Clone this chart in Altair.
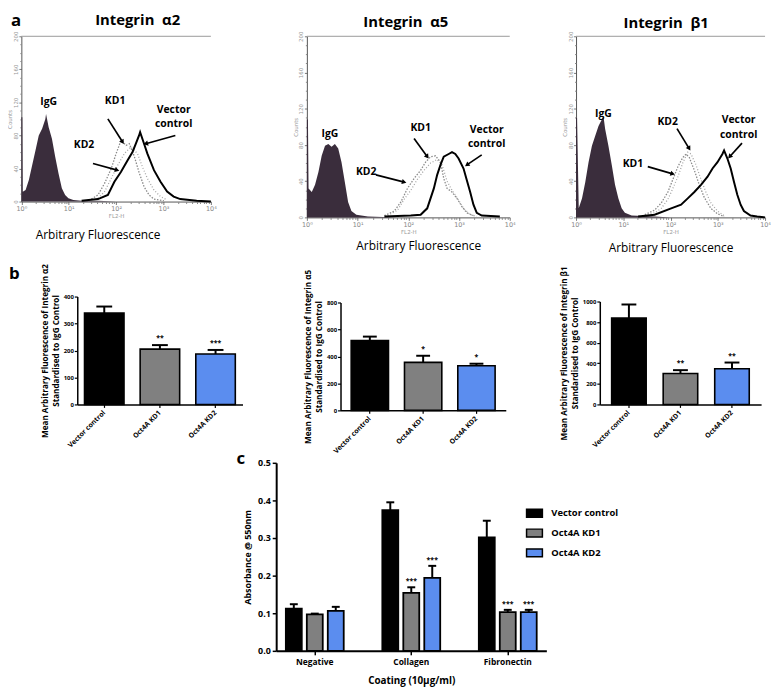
import math
import altair as alt
import pandas as pd

W, H = 771, 684          # whole drawing (page margin of 8px is outside)

# ---------------- panel a : flow cytometry histograms (FL2-H, counts) ----------------
a2_igg_x = [1, 1.05, 1.07, 1.23, 1.44, 1.69, 1.99, 2.33, 2.74, 3.21, 3.32, 3.77, 4.42, 5.19, 6.09, 7.15, 8.39, 9.84, 12.5, 18.6, 41.6, 100]
a2_igg_n = [102, 102, 12, 14, 26, 44, 62, 80, 88, 100, 106, 90, 76, 54, 34, 16, 8, 4, 2, 1, 1, 0]
a2_vec_x = [18.7, 41.5, 67, 92, 127, 175, 222, 261, 305, 321, 389, 457, 629, 866, 1192, 1641, 2260, 5010, 10000]
a2_vec_n = [1, 3, 8, 24, 36, 50, 60, 70, 80, 84, 70, 58, 38, 24, 12, 6, 3, 1, 0]
a2_kd1_x = [30, 41.5, 57, 79, 100, 127, 162, 190, 241, 306, 389, 495, 629, 1016]
a2_kd1_n = [3, 8, 22, 40, 58, 74, 68, 70, 55, 35, 18, 8, 3, 1]
a2_kd2_x = [41.5, 57, 79, 108, 149, 205, 283, 359, 457, 629, 866, 1192]
a2_kd2_n = [4, 12, 28, 44, 58, 66, 58, 42, 28, 14, 6, 2]

a5_igg_x = [1, 1.05, 1.08, 1.25, 1.45, 1.69, 1.96, 2.28, 2.65, 3.07, 3.57, 4.15, 4.82, 5.6, 6.5, 7.55, 9.46, 16, 60]
a5_igg_n = [108, 108, 32, 28, 36, 50, 68, 79, 81, 78, 81, 76, 61, 39, 17, 7, 3, 1, 0]
a5_vec_x = [33.8, 112, 175, 236, 319, 371, 431, 500, 626, 727, 845, 981, 1228, 1426, 1659, 1926, 2238, 2802, 6380]
a5_vec_n = [1, 2, 3, 10, 32, 47, 58, 67, 70, 72, 70, 65, 54, 41, 28, 14, 5, 2, 1]
a5_kd1_x = [33.8, 52.9, 71.4, 96.3, 130, 175, 219, 275, 344, 431, 500, 581, 727, 910, 1140, 1426, 1926]
a5_kd1_n = [2, 7, 17, 32, 43, 52, 61, 67, 68, 61, 43, 32, 28, 21, 12, 5, 2]
a5_kd2_x = [39.2, 61.5, 82.9, 112, 151, 204, 275, 371, 464, 581, 727, 910, 1228, 1659, 2238]
a5_kd2_n = [2, 8, 20, 30, 42, 52, 60, 64, 58, 40, 30, 22, 10, 3, 1]

b1_igg_x = [1, 1.05, 1.14, 1.34, 1.57, 1.84, 2.17, 2.54, 2.99, 3.51, 3.8, 4.12, 4.84, 5.69, 6.68, 7.85, 9.23, 10.8, 15, 46, 100]
b1_igg_n = [110, 110, 10, 21, 39, 61, 79, 90, 101, 108, 112, 98, 79, 58, 36, 21, 10, 5, 2, 1, 0]
b1_vec_x = [20.6, 46, 103, 167, 231, 319, 440, 607, 773, 984, 1253, 1358, 1596, 1874, 2203, 2587, 3040, 3568, 4923, 6796, 10000]
b1_vec_n = [1, 3, 10, 14, 21, 28, 36, 45, 54, 61, 70, 74, 65, 54, 39, 25, 14, 7, 2, 1, 0]
b1_kd1_x = [28.5, 46, 63.7, 87.9, 112, 143, 181, 213, 250, 319, 405, 517, 713, 984, 1358]
b1_kd1_n = [3, 8, 16, 28, 42, 56, 66, 70, 66, 52, 36, 22, 10, 4, 1]
b1_kd2_x = [28.5, 46, 63.7, 87.9, 112, 143, 181, 231, 271, 345, 440, 560, 713, 984, 1358]
b1_kd2_n = [2, 5, 10, 20, 32, 45, 60, 72, 70, 58, 42, 28, 16, 7, 2]

# annotation labels (data coordinates of each histogram)
a2_lab = {"label": ["IgG", "KD1", "KD2", "Vector", "control"],
          "x": [3.76, 95, 21, 1640, 1640], "n": [120, 122, 68, 111, 94]}
a2_arr = {"x": [67, 32.5, 1778], "n": [100, 46, 80], "x2": [137, 105, 422], "n2": [72, 38, 70]}
a5_lab = {"label": ["IgG", "KD1", "KD2", "Vector", "control"],
          "x": [2.85, 175, 14.8, 3510, 3510], "n": [92, 99, 50, 96, 81]}
a5_arr = {"x": [130, 23, 2800], "n": [87, 47, 69], "x2": [237, 83, 1430], "n2": [67, 39, 58]}
b1_lab = {"label": ["IgG", "KD2", "KD1", "Vector", "control"],
          "x": [3.8, 87, 16, 2760, 2760], "n": [114, 105, 59, 107, 91]}
b1_arr = {"x": [137, 33, 3250], "n": [98, 56, 82], "x2": [248, 111, 1780], "n2": [76, 48, 67]}

hist_titles = ["Integrin\u00a0 α2", "Integrin\u00a0 α5", "Integrin\u00a0 β1"]
x_major = [1, 10, 100, 1000, 10000]
x_minor = [2, 3, 4, 5, 6, 7, 8, 9, 20, 30, 40, 50, 60, 70, 80, 90,
           200, 300, 400, 500, 600, 700, 800, 900, 2000, 3000, 4000, 5000, 6000, 7000, 8000, 9000]
y_major = [0, 40, 80, 120, 160, 200]
y_minor = [10, 20, 30, 50, 60, 70, 90, 100, 110, 130, 140, 150, 170, 180, 190]

# ---------------- panel b : mean fluorescence bars ----------------
groups = ["Vector control", "Oct4A KD1", "Oct4A KD2"]
fills = ["#000000", "#808080", "#5b8def"]
ia2_mean = [339, 205, 187]
ia2_sem = [24, 15, 15]
ia2_sig = ["", "**", "***"]
ia5_mean = [518, 356, 331]
ia5_sem = [29, 49, 15]
ia5_sig = ["", "*", "*"]
ib1_mean = [840, 301, 346]
ib1_sem = [131, 32, 61]
ib1_sig = ["", "**", "**"]

# ---------------- panel c : adhesion assay ----------------
coatings = ["Negative", "Collagen", "Fibronectin"]
c_vec_mean = [0.112, 0.374, 0.302]
c_vec_sem = [0.012, 0.021, 0.044]
c_kd1_mean = [0.097, 0.154, 0.103]
c_kd1_sem = [0.002, 0.015, 0.006]
c_kd2_mean = [0.106, 0.194, 0.103]
c_kd2_sem = [0.011, 0.032, 0.006]
c_kd1_sig = ["", "***", "***"]
c_kd2_sig = ["", "***", "***"]

# ---------------- layout (pixel ranges of each panel's scales) ----------------
GEOM = {
    "h1": dict(x=(13.5, 205.0), y=(192.0, 25.0)),
    "h2": dict(x=(302.0, 507.0), y=(208.0, 25.0)),
    "h3": dict(x=(574.0, 765.0), y=(208.0, 25.0)),
    "b1": dict(x=(70.0, 237.0), y=(397.0, 288.0), pi=0.29, po=0.13, cap=16),
    "b2": dict(x=(336.0, 503.0), y=(403.0, 294.0), pi=0.30, po=0.20, cap=14),
    "b3": dict(x=(598.0, 761.0), y=(397.0, 293.0), pi=0.33, po=0.23, cap=15),
    "c": dict(x=(271.0, 544.0), y=(646.0, 456.0)),
}

SUP = ("datum.value < 5 ? '10⁰' : datum.value < 50 ? '10¹' : datum.value < 500 ? '10²' : "
       "datum.value < 5000 ? '10³' : '10⁴'")


def hist_panel(key, igg, vec, kd1, kd2, lab, arr):
    g = GEOM[key]
    xs = alt.Scale(type="log", domain=[1, 10000], range=list(g["x"]))
    ys = alt.Scale(domain=[0, 200], range=list(g["y"]), nice=False, zero=True)
    xa = alt.Axis(orient="bottom", offset=g["y"][0] - H, values=x_major,
                  labelExpr=SUP, grid=False, title="FL2-H", titleFontSize=5.5,
                  titleFont="DejaVu Sans", titleFontWeight="normal", titleColor="#999",
                  titlePadding=2, labelFont="DejaVu Sans", labelFontSize=6.5, labelColor="#888",
                  labelPadding=1, labelFlush=False, labelOverlap=False, tickSize=3,
                  tickColor="#777", domainColor="#555")
    ya = alt.Axis(orient="left", offset=-g["x"][0], values=y_major,
                  grid=False, title="Counts", titleFontSize=5.5, titleFont="DejaVu Sans",
                  titleFontWeight="normal", titleColor="#999", titlePadding=0.5,
                  labelFont="DejaVu Sans", labelFontSize=5.5, labelColor="#999",
                  labelAngle=270, labelAlign="center", labelBaseline="bottom",
                  labelPadding=0.5, labelFlush=False, tickSize=2.5, tickColor="#777",
                  domainColor="#555")

    def X(f):
        return alt.X(f"{f}:Q", scale=xs, axis=xa)

    def Y(f):
        return alt.Y(f"{f}:Q", scale=ys, axis=ya)

    layers = [
        alt.Chart(pd.DataFrame({"x": igg[0], "n": igg[1]})).mark_area(
            color="#3a2d3c", opacity=1).encode(x=X("x"), y=Y("n")),
        alt.Chart(pd.DataFrame({"x": kd1[0], "n": kd1[1]})).mark_line(
            color="#8a8a8a", strokeWidth=1.3, strokeDash=[1.5, 1.5]).encode(x=X("x"), y=Y("n")),
        alt.Chart(pd.DataFrame({"x": kd2[0], "n": kd2[1]})).mark_line(
            color="#a5a5a5", strokeWidth=1.3, strokeDash=[1, 2]).encode(x=X("x"), y=Y("n")),
        alt.Chart(pd.DataFrame({"x": vec[0], "n": vec[1]})).mark_line(
            color="black", strokeWidth=2).encode(x=X("x"), y=Y("n")),
        alt.Chart(pd.DataFrame({"x": [1], "x2": [10000], "n": [200]})).mark_rule(
            color="#999", strokeWidth=1).encode(x=X("x"), x2="x2", y=Y("n")),
        alt.Chart(pd.DataFrame(lab)).mark_text(
            font="Open Sans", fontWeight="bold", fontSize=10.5, color="black").encode(
            x=X("x"), y=Y("n"), text="label:N"),
    ]
    # arrows: shaft + head, head direction from the pixel geometry of the scales
    adf = pd.DataFrame(arr)

    def pxl(v):
        return g["x"][0] + (g["x"][1] - g["x"][0]) * math.log10(v) / 4

    def pyl(v):
        return g["y"][0] + (g["y"][1] - g["y"][0]) * v / 200

    adf["ang"] = [
        math.degrees(math.atan2(pxl(b) - pxl(a), -(pyl(d) - pyl(c)))) % 360
        for a, b, c, d in zip(adf.x, adf.x2, adf.n, adf.n2)
    ]
    layers.append(alt.Chart(adf).mark_rule(color="black", strokeWidth=1.7).encode(
        x=X("x"), x2="x2", y=Y("n"), y2="n2"))
    layers.append(alt.Chart(adf).mark_point(
        shape="triangle-up", filled=True, size=28, color="black", opacity=1).encode(
        x=X("x2"), y=Y("n2"), angle=alt.Angle("ang:Q", scale=None)))

    # minor ticks of the cytometer plot (separate axes on the same scales)
    mdf = pd.DataFrame({"x": x_minor[:len(y_minor)], "n": y_minor})
    minor = alt.Chart(mdf).mark_point(opacity=0).encode(
        x=alt.X("x:Q", scale=xs, axis=alt.Axis(
            orient="bottom", offset=g["y"][0] - H, values=x_minor, labels=False,
            domain=False, title=None, tickSize=2, tickColor="#888", grid=False)),
        y=alt.Y("n:Q", scale=ys, axis=alt.Axis(
            orient="left", offset=-g["x"][0], values=y_minor, labels=False,
            domain=False, title=None, tickSize=1.5, tickColor="#888", grid=False)),
    )
    return [alt.layer(*layers), minor]


def bar_panel(key, means, sems, sigs, ymax, yvals, ytitle):
    g = GEOM[key]
    df = pd.DataFrame({"grp": groups, "m": means, "hi": [a + b for a, b in zip(means, sems)],
                       "sig": sigs})
    xs = alt.Scale(domain=groups, range=list(g["x"]), paddingInner=g["pi"], paddingOuter=g["po"])
    ys = alt.Scale(domain=[0, ymax], range=list(g["y"]), nice=False, zero=True)
    xa = alt.Axis(orient="bottom", offset=g["y"][0] - H, title=None, labelAngle=-45,
                  labelAlign="right", labelBaseline="middle", labelFont="Open Sans",
                  labelFontWeight="bold", labelFontSize=7, labelColor="black",
                  labelPadding=4, tickSize=3, tickColor="black", tickWidth=1.2,
                  domainColor="black", domainWidth=1.5, grid=False)
    ya = alt.Axis(orient="left", offset=-g["x"][0], values=yvals, title=ytitle, format="d",
                  titleFont="Open Sans", titleFontWeight="bold", titleFontSize=8.2,
                  titleColor="black", titlePadding=3, titleLineHeight=11,
                  labelFont="Open Sans", labelFontWeight="bold", labelFontSize=6,
                  labelColor="black", labelPadding=1, labelFlush=False, tickSize=3,
                  tickColor="black", tickWidth=1.2, domainColor="black", domainWidth=1.5,
                  grid=False)
    X = alt.X("grp:N", sort=groups, scale=xs, axis=xa)
    col = alt.Color("grp:N", scale=alt.Scale(domain=groups, range=fills), legend=None)
    base = alt.Chart(df)
    return alt.layer(
        base.mark_rule(color="black", strokeWidth=2).encode(
            x=X, y=alt.Y("m:Q", scale=ys, axis=ya), y2="hi"),
        base.mark_tick(color="black", thickness=2, size=g["cap"], opacity=1).encode(
            x=X, y=alt.Y("hi:Q", scale=ys, axis=ya)),
        base.mark_bar(stroke="black", strokeWidth=1.6).encode(
            x=X, y=alt.Y("m:Q", scale=ys, axis=ya), color=col),
        base.mark_text(font="Open Sans", fontWeight="bold", fontSize=7, dy=-4,
                       baseline="bottom", color="black").encode(
            x=X, y=alt.Y("hi:Q", scale=ys, axis=ya), text="sig:N"),
    )


def c_panel():
    g = GEOM["c"]
    rows = []
    for s, ms, ss, sg in [("Vector control", c_vec_mean, c_vec_sem, ["", "", ""]),
                          ("Oct4A KD1", c_kd1_mean, c_kd1_sem, c_kd1_sig),
                          ("Oct4A KD2", c_kd2_mean, c_kd2_sem, c_kd2_sig)]:
        for ct, m, e, st in zip(coatings, ms, ss, sg):
            rows.append({"coat": ct, "grp": s, "m": m, "hi": m + e, "sig": st})
    df = pd.DataFrame(rows)
    xs = alt.Scale(domain=coatings, range=list(g["x"]), paddingInner=0.4, paddingOuter=0.1)
    ys = alt.Scale(domain=[0, 0.5], range=list(g["y"]), nice=False, zero=True)
    xa = alt.Axis(orient="bottom", offset=g["y"][0] - H, title="Coating (10µg/ml)",
                  titleFont="Open Sans", titleFontWeight="bold", titleFontSize=10,
                  titleColor="black", titlePadding=10, labelAngle=0, labelFont="Open Sans",
                  labelFontWeight="bold", labelFontSize=8.5, labelColor="black",
                  labelPadding=3, tickSize=4, tickColor="black", tickWidth=1.5,
                  domainColor="black", domainWidth=2, grid=False)
    ya = alt.Axis(orient="left", offset=-g["x"][0], values=[0, 0.1, 0.2, 0.3, 0.4, 0.5],
                  format=".1f", title="Absorbance @ 550nm", titleFont="Open Sans",
                  titleFontWeight="bold", titleFontSize=9, titleColor="black", titlePadding=5,
                  labelFont="Open Sans", labelFontWeight="bold", labelFontSize=9,
                  labelColor="black", labelPadding=2, labelFlush=False, tickSize=4,
                  tickColor="black", tickWidth=1.5, domainColor="black", domainWidth=2,
                  grid=False)
    X = alt.X("coat:N", sort=coatings, scale=xs, axis=xa)
    XO = alt.XOffset("grp:N", sort=groups,
                     scale=alt.Scale(domain=groups, paddingInner=0.24, paddingOuter=0))
    col = alt.Color("grp:N", scale=alt.Scale(domain=groups, range=fills),
                    legend=alt.Legend(orient="none", legendX=523, legendY=498, title=None,
                                      symbolType="M-1,-0.5H1V0.5H-1Z", symbolSize=256,
                                      symbolStrokeColor="black", symbolStrokeWidth=1.5,
                                      labelFont="Open Sans", labelFontWeight="bold",
                                      labelFontSize=9.5, labelColor="black",
                                      labelOffset=8, rowPadding=4))
    base = alt.Chart(df)
    return alt.layer(
        base.mark_rule(color="black", strokeWidth=2).encode(
            x=X, xOffset=XO, y=alt.Y("m:Q", scale=ys, axis=ya), y2="hi"),
        base.mark_tick(color="black", thickness=2, size=8, opacity=1).encode(
            x=X, xOffset=XO, y=alt.Y("hi:Q", scale=ys, axis=ya)),
        base.mark_bar(stroke="black", strokeWidth=1.8).encode(
            x=X, xOffset=XO, y=alt.Y("m:Q", scale=ys, axis=ya), color=col),
        base.mark_text(font="Open Sans", fontWeight="bold", fontSize=7, dy=-3,
                       baseline="bottom", color="black").encode(
            x=X, xOffset=XO, y=alt.Y("hi:Q", scale=ys, axis=ya), text="sig:N"),
    )


# ---------------- free-standing texts (figure pixel coordinates) ----------------
def fig_text(labels, xs, ys, **mk):
    df = pd.DataFrame({"t": labels, "px": xs, "py": ys})
    return alt.Chart(df).mark_text(**mk).encode(
        x=alt.X("px:Q", scale=None, axis=None), y=alt.Y("py:Q", scale=None, axis=None),
        text="t:N")


letters = fig_text(["a", "b", "c"], [3, 1, 231], [15, 270, 457], font="Open Sans",
                   fontWeight="bold", fontSize=17, align="left", baseline="alphabetic",
                   color="black")
titles = fig_text(hist_titles, [131, 402, 665], [14, 16, 17], font="Open Sans",
                  fontWeight="bold", fontSize=15, align="center", baseline="alphabetic",
                  color="black")
subtitles = fig_text(["Arbitrary Fluorescence"] * 3, [91, 415, 670], [230, 241, 243],
                     font="Open Sans", fontSize=12, align="center", baseline="alphabetic",
                     color="black")

panels = []
panels += hist_panel("h1", (a2_igg_x, a2_igg_n), (a2_vec_x, a2_vec_n), (a2_kd1_x, a2_kd1_n),
                     (a2_kd2_x, a2_kd2_n), a2_lab, a2_arr)
panels += hist_panel("h2", (a5_igg_x, a5_igg_n), (a5_vec_x, a5_vec_n), (a5_kd1_x, a5_kd1_n),
                     (a5_kd2_x, a5_kd2_n), a5_lab, a5_arr)
panels += hist_panel("h3", (b1_igg_x, b1_igg_n), (b1_vec_x, b1_vec_n), (b1_kd1_x, b1_kd1_n),
                     (b1_kd2_x, b1_kd2_n), b1_lab, b1_arr)
panels += [
    bar_panel("b1", ia2_mean, ia2_sem, ia2_sig, 400, [0, 100, 200, 300, 400],
              ["Mean Arbitrary Fluorescence of Integrin α2", "Standardised to IgG Control"]),
    bar_panel("b2", ia5_mean, ia5_sem, ia5_sig, 800, [0, 200, 400, 600, 800],
              ["Mean Arbitrary Fluorescence of Integrin α5", "Standardised to IgG Control"]),
    bar_panel("b3", ib1_mean, ib1_sem, ib1_sig, 1000, [0, 200, 400, 600, 800, 1000],
              ["Mean Arbitrary Fluorescence of Integrin β1", "Standardised to IgG Control"]),
    c_panel(),
    letters, titles, subtitles,
]

chart = alt.layer(*panels).resolve_scale(
    x="independent", y="independent", color="independent", xOffset="independent"
).resolve_axis(
    x="independent", y="independent"
).resolve_legend(
    color="independent"
).properties(
    width=W, height=H, autosize=alt.AutoSizeParams(type="none"), padding=0,
    background="white"
).configure_view(stroke=None).configure_axis(grid=False)

chart.save("out.html", embed_options={"renderer": "svg", "actions": False})
